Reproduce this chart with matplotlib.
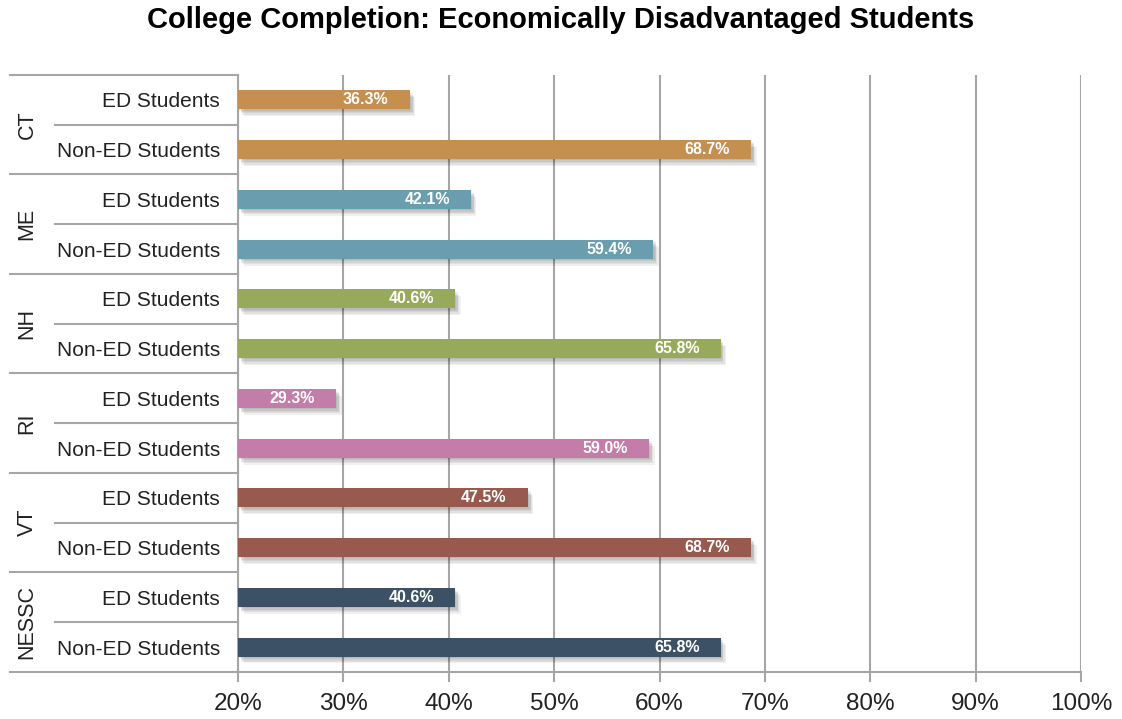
import matplotlib.pyplot as plt
import matplotlib.patheffects as pe
from matplotlib.transforms import blended_transform_factory

groups = ["CT", "ME", "NH", "RI", "VT", "NESSC"]
subgroups = ["ED Students", "Non-ED Students"]
ed_rates = [36.3, 42.1, 40.6, 29.3, 47.5, 40.6]
non_ed_rates = [68.7, 59.4, 65.8, 59.0, 68.7, 65.8]
colors = ["#C48F4F", "#6A9DAD", "#97AA5C", "#C47CA8", "#985A4F", "#3D5166"]
xticks = [20, 30, 40, 50, 60, 70, 80, 90, 100]

plt.rcParams['font.family'] = ['Liberation Sans', 'DejaVu Sans']
grid_c = "#a6a6a6"

fig = plt.figure(figsize=(11.22, 7.19), dpi=100)
ax = fig.add_axes([0.2121, 0.0654, 0.7514, 0.8303])

# soft drop shadow built from a few faint offset copies
shadow = [pe.SimplePatchShadow(offset=(dx, -dy), shadow_rgbFace="#000000", alpha=0.06)
          for dx, dy in [(1, 1), (2, 2), (2, 3), (3, 4), (4, 5)]] + [pe.Normal()]

pos = 0
for i, g in enumerate(groups):
    for val in (ed_rates[i], non_ed_rates[i]):
        b = ax.barh(pos, val - 20, left=20, height=0.38, color=colors[i], zorder=3)
        for p in b:
            p.set_path_effects(shadow)
        ax.text(val - 2.0, pos, f"{val:.1f}%", color="white", fontsize=11.5,
                fontweight="bold", ha="right", va="center", zorder=4)
        pos += 1

ax.set_xlim(20, 100)
ax.set_ylim(11.5, -0.5)
ax.set_xticks(xticks)
ax.set_xticklabels([f"{t}%" for t in xticks], fontsize=17.5, color="#222222")
ax.set_yticks([])
ax.tick_params(axis="x", length=7, width=1.5, color=grid_c, pad=8)
ax.grid(axis="x", color=grid_c, linewidth=1.5, zorder=0)

for s in ("top", "right"):
    ax.spines[s].set_visible(False)
for s in ("left", "bottom"):
    ax.spines[s].set_color(grid_c)
    ax.spines[s].set_linewidth(1.5)

# hierarchical category labels on the left
tr = blended_transform_factory(ax.transAxes, ax.transData)
for i, g in enumerate(groups):
    top = 2 * i - 0.5
    ax.plot([-0.2705, 0], [top, top], color=grid_c, lw=1.5, transform=tr, clip_on=False)
    ax.plot([-0.217, 0], [top + 1, top + 1], color=grid_c, lw=1.5, transform=tr, clip_on=False)
    ax.text(-0.2503, top + 1, g, rotation=90, ha="center", va="center",
            fontsize=15.5, color="#222222", transform=tr)
    for j, sg in enumerate(subgroups):
        ax.text(-0.0214, 2 * i + j + 0.04, sg, ha="right", va="center",
                fontsize=15, color="#222222", transform=tr)
ax.plot([-0.2705, 0], [11.5, 11.5], color=grid_c, lw=1.5, transform=tr, clip_on=False)

fig.text(0.5, 0.972, "College Completion: Economically Disadvantaged Students",
         ha="center", va="center", fontsize=21, fontweight="bold")

fig.savefig("out.png", dpi=100)
